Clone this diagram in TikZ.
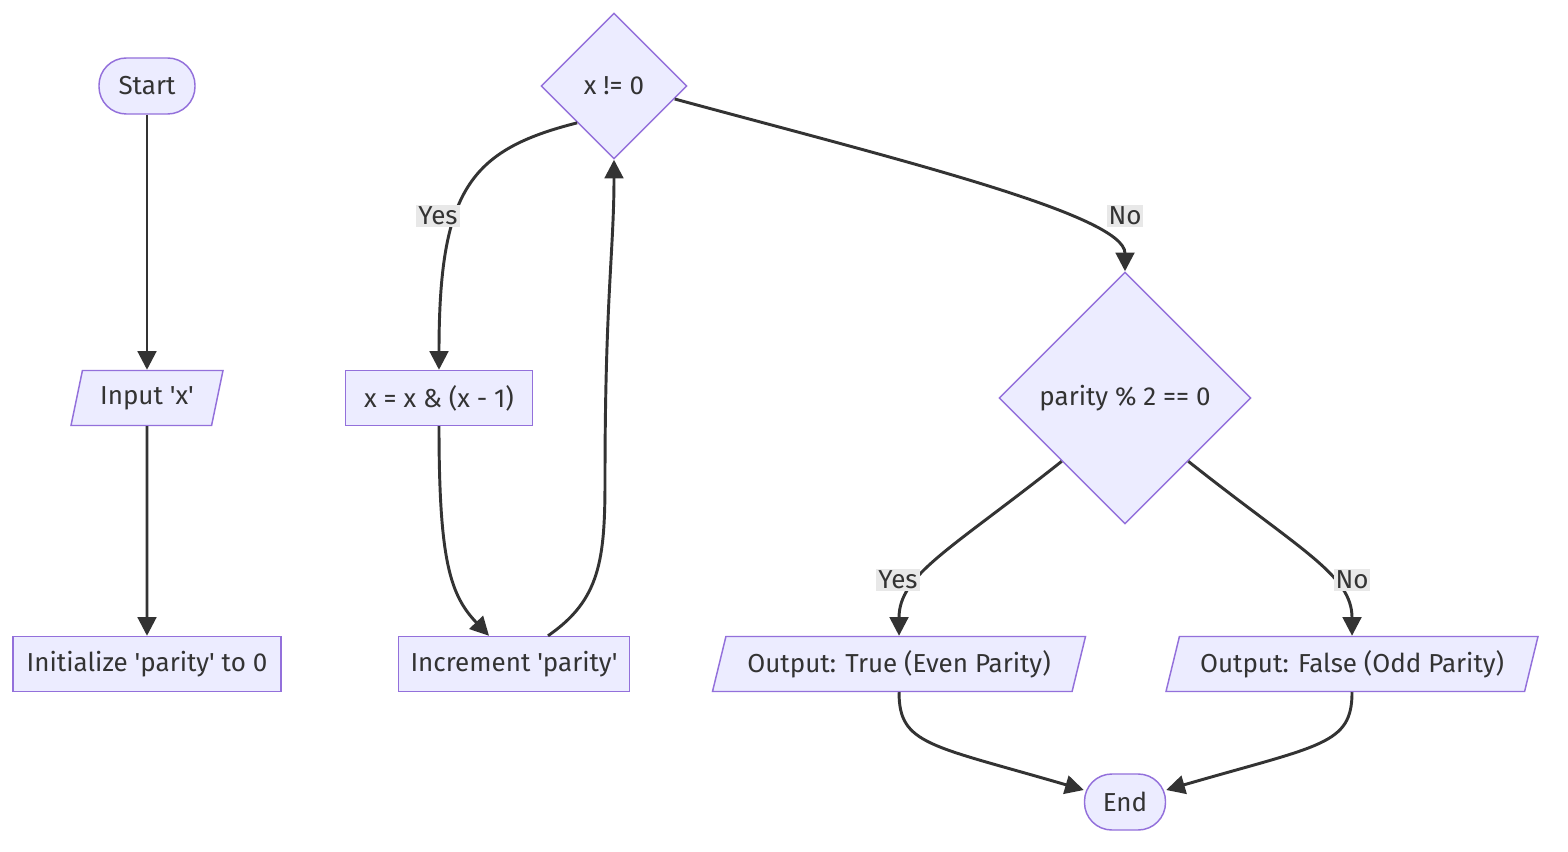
\documentclass[tikz,border=0pt]{standalone}
\usepackage{fontspec}
\setmainfont{Fira Sans}
\usetikzlibrary{positioning,arrows.meta,shapes.geometric,calc}
\definecolor{nodefill}{HTML}{ECECFF}
\definecolor{nodeline}{HTML}{9370DB}
\definecolor{ink}{HTML}{333333}
\definecolor{lblbg}{HTML}{E8E8E8}
\newcommand{\sq}{\textquotesingle}

\begin{document}
\begin{tikzpicture}[
  x=0.75pt, y=-0.75pt,
  font=\fontsize{19.5}{23}\selectfont, text=ink,
  box/.style={draw=nodeline,fill=nodefill,line width=1.1pt,minimum height=41.25pt,inner sep=0pt},
  term/.style={box,rounded corners=20.5pt,minimum height=42pt},
  io/.style={box,trapezium,trapezium left angle=64,trapezium right angle=116,trapezium stretches body},
  cond/.style={box,diamond,aspect=1},
  arr/.style={-{Triangle[length=14pt,width=14pt]},ink,line width=2.2pt},
  lbl/.style={fill=lblbg,inner sep=1.5pt,text=ink}
]
\fill[white] (0,0) rectangle (1568,852);
\useasboundingbox (0,0) rectangle (1568,852);

\node[term,minimum width=72pt] (st) at (147,86) {Start};
\node[io,minimum width=114pt] (inp) at (147,398) {Input \sq x\sq};
\node[box,minimum width=201pt] (ini) at (147,664) {Initialize \sq parity\sq\ to 0};
\node[cond,minimum width=109.5pt,minimum height=109.5pt] (chk) at (614,86) {x != 0};
\node[box,minimum width=140.25pt] (upd) at (439,398) {x = x \& (x - 1)};
\node[box,minimum width=173.25pt] (inc) at (514,664) {Increment \sq parity\sq};
\node[cond,minimum width=189pt,minimum height=189pt] (par) at (1125,398) {parity \% 2 == 0};
\node[io,minimum width=279.75pt] (ev) at (899,664) {Output: True (Even Parity)};
\node[io,minimum width=279pt] (od) at (1352,664) {Output: False (Odd Parity)};
\node[term,minimum width=60.75pt] (fin) at (1125,802) {End};

\foreach \x/\y in {st/inp,inp/ini} \draw[arr] (\x) -- (\y);

\draw[arr] (chk.south west) .. controls (470,150) and (439,190) .. (upd.north) node[lbl] at (438,216) {Yes};
\draw[arr] (upd.south) .. controls (439,560) and (450,595) .. ($(inc.north)+(-25,0)$);
\draw[arr] ($(inc.north)+(34,0)$) .. controls (600,600) and (605,560) .. (605,480) .. controls (605,300) and (614,250) .. (chk.south);
\draw[arr] ($(chk.east)+(-13,13)$) .. controls (900,160) and (1125,215) .. (par.north) node[lbl] at (1125,216) {No};
\draw[arr] (par.south west) .. controls (950,550) and (899,575) .. (ev.north) node[lbl] at (898,580) {Yes};
\draw[arr] (par.south east) .. controls (1300,550) and (1352,575) .. (od.north) node[lbl] at (1352,580) {No};
\draw[arr] (ev.south) .. controls (899,745) and (930,745) .. ($(fin.west)+(0,-12)$);
\draw[arr] (od.south) .. controls (1352,745) and (1321,745) .. ($(fin.east)+(0,-12)$);
\end{tikzpicture}
\end{document}
